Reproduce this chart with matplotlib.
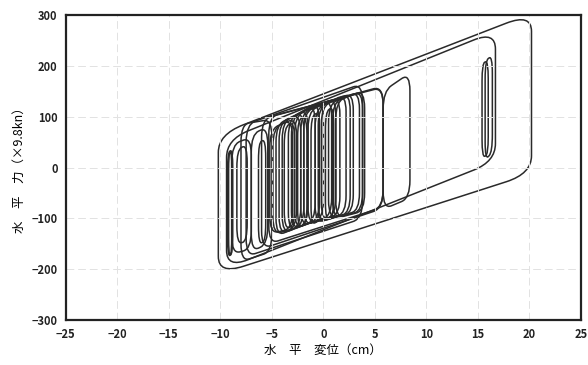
import matplotlib
matplotlib.use('Agg')
import matplotlib.pyplot as plt
from matplotlib.path import Path
from matplotlib.patches import PathPatch

plt.rcParams['font.family'] = ['Noto Sans CJK JP', 'DejaVu Sans']

# each loop: left/right displacement (cm), force at the four corners
loop_xl = [-10.2, -9.4, -9.3, -9.2, -8.9, -8.4, -7.0, -6.3, -8.0,
           -5.2, -4.9, -4.6, -4.3, -4.0, -3.4, -3.1, -2.8, -2.2, -1.9, -1.5,
           -0.8, -0.5, -0.2, 0.5, 0.9, 1.2,
           -3.8, -2.5, -1.2, 0.2,
           -7.5, -6.0, -5.3, 5.8, 15.4, 15.7]
loop_xr = [20.2, 16.7, -8.8, -8.9, -7.0, -7.4, -5.4, -5.6, -5.0,
           -3.0, -2.6, -2.2, -1.9, -1.5, -0.8, -0.4, 0.0, 0.8, 1.2, 1.6,
           2.2, 2.6, 2.9, 3.5, 3.8, 4.0,
           -2.8, -1.6, -0.4, 1.0,
           3.8, 5.8, 5.8, 8.4, 16.0, 16.4]
loop_ytl = [65, 55, 30, 28, 45, 35, 65, 50, 85,
            75, 78, 85, 88, 90, 95, 98, 100, 105, 108, 110,
            115, 118, 120, 125, 128, 130,
            80, 95, 100, 110,
            85, 95, 100, 150, 205, 210]
loop_ytr = [303, 268, 35, 32, 60, 45, 80, 55, 95,
            95, 98, 105, 110, 115, 125, 128, 130, 135, 138, 140,
            145, 147, 148, 150, 151, 152,
            90, 100, 110, 120,
            165, 160, 158, 186, 210, 220]
loop_ybl = [-210, -198, -175, -172, -170, -150, -165, -150, -185,
            -130, -132, -135, -132, -130, -125, -122, -120, -115, -114, -112,
            -110, -108, -105, -100, -100, -100,
            -120, -118, -112, -105,
            -175, -160, -150, -82, 20, 15]
loop_ybr = [-12, 12, -170, -170, -160, -145, -150, -145, -165,
            -120, -118, -115, -112, -110, -105, -102, -100, -95, -94, -92,
            -90, -89, -88, -85, -85, -85,
            -115, -110, -105, -95,
            -100, -80, -78, -60, 25, 30]

fig = plt.figure(figsize=(5.88, 3.65), dpi=100)
ax = fig.add_axes([0.112, 0.123, 0.876, 0.836])

for xl, xr, ytl, ytr, ybl, ybr in zip(loop_xl, loop_xr, loop_ytl, loop_ytr, loop_ybl, loop_ybr):
    w = xr - xl
    rx = min(0.45 * w, max(0.8, 0.08 * w))
    ry = min(35, 0.3 * (ytl - ybl))
    st = (ytr - ytl) / w
    sb = (ybr - ybl) / w
    verts = [(xl, ybl + ry), (xl, ytl - ry), (xl, ytl), (xl + rx, ytl + st * rx),
             (xr - rx, ytr - st * rx), (xr, ytr), (xr, ytr - ry),
             (xr, ybr + ry), (xr, ybr), (xr - rx, ybr - sb * rx),
             (xl + rx, ybl + sb * rx), (xl, ybl), (xl, ybl + ry)]
    codes = [Path.MOVETO, Path.LINETO, Path.CURVE3, Path.CURVE3,
             Path.LINETO, Path.CURVE3, Path.CURVE3,
             Path.LINETO, Path.CURVE3, Path.CURVE3,
             Path.LINETO, Path.CURVE3, Path.CURVE3]
    ax.add_patch(PathPatch(Path(verts, codes), facecolor='none', edgecolor='#2a2a2a', lw=1.1))

ax.set_xlim(-25, 25)
ax.set_ylim(-300, 300)
ax.set_xticks(range(-25, 26, 5))
ax.set_yticks(range(-300, 301, 100))
ax.grid(True, color='#e2e2e2', lw=0.7, ls=(0, (8, 4)))
ax.tick_params(length=0, labelsize=8, colors='#222222', pad=6)
for lab in ax.get_xticklabels() + ax.get_yticklabels():
    lab.set_fontweight('bold')
for s in ax.spines.values():
    s.set_linewidth(1.6)
    s.set_color('#222222')

ax.set_xlabel('水　平　変位（cm）', fontsize=9, labelpad=2)
ax.set_ylabel('水　平　力（×9.8kn）', fontsize=9, labelpad=4)

fig.savefig('out.png', dpi=100)
